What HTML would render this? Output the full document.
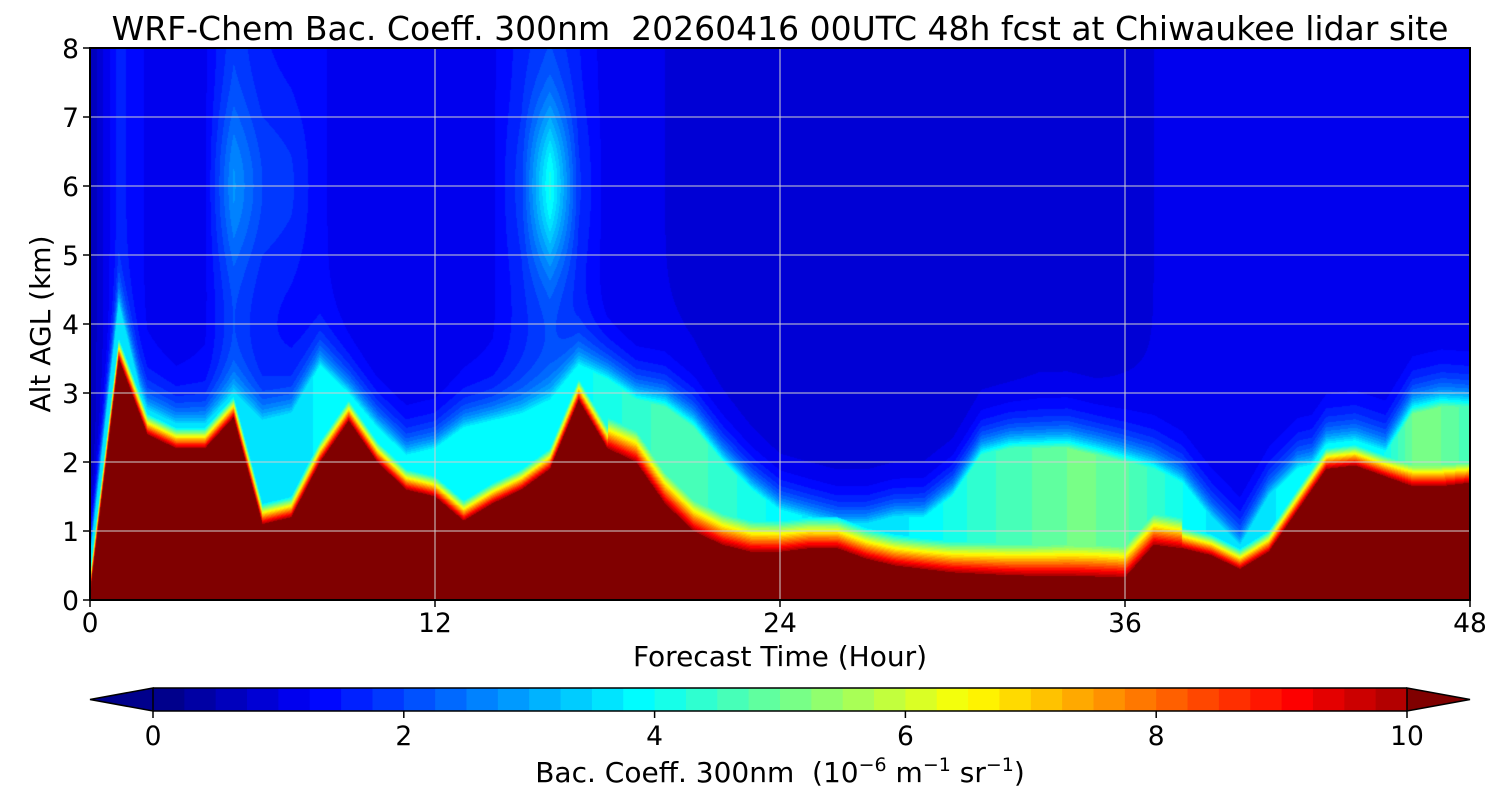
<!DOCTYPE html>
<html><head><meta charset="utf-8">
<style>
body{margin:0;background:#fff;width:1500px;height:800px;overflow:hidden;font-family:"DejaVu Sans","Liberation Sans",sans-serif;}
#wrap{position:relative;width:1500px;height:800px;}
canvas{position:absolute;}
svg text{font-family:"DejaVu Sans","Liberation Sans",sans-serif;}
</style></head>
<body>
<div id="wrap">
<canvas id="heat" width="1380" height="552" style="left:90px;top:48px;width:1380px;height:552px"></canvas>
<svg id="ov" width="1500" height="800" style="position:absolute;left:0;top:0"></svg>
</div>
<script>
const hours=[0,1,2,3,4,5,6,7,8,9,10,11,12,13,14,15,16,17,18,19,20,21,22,23,24,25,26,27,28,29,30,31,32,33,34,35,36,37,38,39,40,41,42,43,44,45,46,47,48];
const redTop=[0.1,3.5,2.4,2.2,2.2,2.65,1.1,1.2,2.0,2.6,2.0,1.6,1.5,1.15,1.4,1.6,1.9,2.9,2.2,2.0,1.4,1.0,0.8,0.7,0.7,0.75,0.75,0.6,0.5,0.45,0.4,0.38,0.36,0.35,0.35,0.34,0.33,0.8,0.75,0.65,0.45,0.7,1.3,1.9,1.95,1.8,1.65,1.65,1.7];
const aerTop=[0.6,4.3,2.6,2.4,2.4,3.0,2.6,2.7,3.4,3.0,2.5,2.1,2.2,2.5,2.6,2.7,2.9,3.4,3.2,2.9,2.8,2.5,2.0,1.6,1.3,1.2,1.1,1.1,1.2,1.2,1.5,2.1,2.2,2.2,2.2,2.1,2.0,1.9,1.7,1.2,0.8,1.5,1.9,2.0,2.0,2.1,2.7,2.8,2.8];
const midVal=[3.5,3.6,3.6,3.6,3.6,3.6,3.6,3.6,3.8,3.8,3.8,3.8,3.8,3.8,3.8,3.8,3.8,3.9,4.1,4.4,4.6,4.6,4.4,4.1,3.9,3.7,3.6,3.6,3.7,3.8,4.1,4.4,4.6,4.8,5.0,5.0,4.8,4.4,4.0,3.7,3.5,3.7,3.9,3.9,3.9,4.0,5.0,5.0,4.6];
const bgVal=[0.5,1.6,1.2,1.1,1.2,1.9,1.5,1.4,1.3,1.1,1.0,1.0,1.0,1.1,1.2,1.6,1.9,1.5,1.1,1.0,1.0,0.95,0.9,0.85,0.8,0.8,0.8,0.8,0.8,0.8,0.8,0.85,0.85,0.9,0.9,0.9,0.95,1.0,1.0,1.0,1.0,1.0,1.0,1.0,1.0,1.0,1.0,1.0,1.0];
const plume=[0,0,0,0,0,0.9,0.5,0.4,0,0,0,0,0,0,0,0.3,2.2,0.3,0,0,0,0,0,0,0,0,0,0,0,0,0,0,0,0,0,0,0,0,0,0,0,0,0,0,0,0,0,0,0];
const xTicks=[0,12,24,36,48];
const yTicks=[0,1,2,3,4,5,6,7,8];
const cbTicks=[0,2,4,6,8,10];

const X0=90,X1=1470,Y0=600,Y1=48;
const xs=h=>X0+(h/48)*(X1-X0);
const ys=z=>Y0-(z/8)*(Y0-Y1);
const cx=v=>153+(v/10)*(1407-153);

function jet(x){x=Math.max(0,Math.min(1,x));const c=t=>Math.round(255*Math.max(0,Math.min(1,t)));
return [c(1.5-Math.abs(4*x-3)),c(1.5-Math.abs(4*x-2)),c(1.5-Math.abs(4*x-1))];}
function levelColor(v){let q=Math.floor(v/0.25)*0.25+0.125;return jet(Math.min(q,10.2)/10.4);}
function interp(arr,h){const i=Math.min(Math.floor(h),47),f=h-i;return arr[i]*(1-f)+arr[i+1]*f;}
function val(h,z){
  const r=interp(redTop,h),a=Math.max(interp(aerTop,h),r+0.35),m=interp(midVal,h),b=interp(bgVal,h),p=interp(plume,h);
  const tr=h>18&&h<38?0.45:0.3;
  let v;
  if(z<r)v=10.5;
  else if(z<r+tr)v=10-(10-m)*((z-r)/tr);
  else if(z<a)v=m;
  else v=b+(m-b)*Math.exp(-(z-a)/0.3);
  v+=p*Math.exp(-Math.pow((z-6)/1.2,2));
  return v;
}
const cv=document.getElementById('heat'),ctx=cv.getContext('2d');
const img=ctx.createImageData(1380,552);
for(let py=0;py<552;py++){const z=(552-py-0.5)/552*8;
 for(let px=0;px<1380;px++){const h=(px+0.5)/1380*48;const v=val(h,z);
  const c=v>=10?[128,0,0]:levelColor(Math.max(0,v));const k=(py*1380+px)*4;
  img.data[k]=c[0];img.data[k+1]=c[1];img.data[k+2]=c[2];img.data[k+3]=255;}}
ctx.putImageData(img,0,0);

const NS='http://www.w3.org/2000/svg',svg=document.getElementById('ov');
function el(t,a,txt){const e=document.createElementNS(NS,t);for(const k in a)e.setAttribute(k,a[k]);if(txt!==undefined)e.textContent=txt;svg.appendChild(e);return e;}
xTicks.forEach(t=>{if(t>0&&t<48){const g=el('line',{x1:xs(t),x2:xs(t),y1:Y1,y2:Y0,stroke:'#d0d0d0','stroke-width':1});
}});
yTicks.forEach(t=>{if(t>0&&t<8){const g=el('line',{x1:X0,x2:X1,y1:ys(t),y2:ys(t),stroke:'#d0d0d0','stroke-width':1});
}});
const fr=el('rect',{x:X0,y:Y1,width:X1-X0,height:Y0-Y1,fill:'none',stroke:'#000','stroke-width':2});

xTicks.forEach(t=>{el('line',{x1:xs(t),x2:xs(t),y1:Y0,y2:Y0+7,stroke:'#000','stroke-width':1.5});
const l=el('text',{x:xs(t),y:Y0+32,'text-anchor':'middle','font-size':26.5},String(t));
});
yTicks.forEach(t=>{el('line',{x1:X0-7,x2:X0,y1:ys(t),y2:ys(t),stroke:'#000','stroke-width':1.5});
const l=el('text',{x:X0-11,y:ys(t)+10,'text-anchor':'end','font-size':26.5},String(t));
});
const ti=el('text',{x:780,y:40,'text-anchor':'middle','font-size':33},'WRF-Chem Bac. Coeff. 300nm  20260416 00UTC 48h fcst at Chiwaukee lidar site');
ti.style.whiteSpace='pre';
const xt=el('text',{x:780,y:666,'text-anchor':'middle','font-size':28},'Forecast Time (Hour)');

const yt=el('text',{x:50,y:324,'text-anchor':'middle','font-size':28,transform:'rotate(-90 50 324)'},'Alt AGL (km)');

const CT=688,CB=711;
for(let i=0;i<40;i++){const v0=i*0.25;const c=levelColor(v0);
 const r=el('rect',{x:cx(v0),y:CT,width:cx(v0+0.25)-cx(v0)+0.6,height:CB-CT,fill:`rgb(${c})`});
 }
const lc=jet(0.012),rc=[128,0,0];
const tl=el('polygon',{points:`153,${CT} 90,${(CT+CB)/2} 153,${CB}`,fill:`rgb(${lc})`,stroke:'#000','stroke-width':1.5});

const tr=el('polygon',{points:`1407,${CT} 1470,${(CT+CB)/2} 1407,${CB}`,fill:`rgb(${rc})`,stroke:'#000','stroke-width':1.5});

el('polyline',{points:`153,${CT} 1407,${CT}`,stroke:'#000','stroke-width':1.5,fill:'none'});
el('polyline',{points:`153,${CB} 1407,${CB}`,stroke:'#000','stroke-width':1.5,fill:'none'});
cbTicks.forEach(t=>{el('line',{x1:cx(t),x2:cx(t),y1:CB,y2:CB+7,stroke:'#000','stroke-width':1.5});
const l=el('text',{x:cx(t),y:745,'text-anchor':'middle','font-size':26.5},String(t));
});
const cl=el('text',{x:780,y:782,'text-anchor':'middle','font-size':28});

cl.innerHTML='Bac. Coeff. 300nm  (10<tspan dy="-11" font-size="19">−6</tspan><tspan dy="11"> m</tspan><tspan dy="-11" font-size="19">−1</tspan><tspan dy="11"> sr</tspan><tspan dy="-11" font-size="19">−1</tspan><tspan dy="11">)</tspan>';
cl.style.whiteSpace='pre';
</script>
</body></html>
